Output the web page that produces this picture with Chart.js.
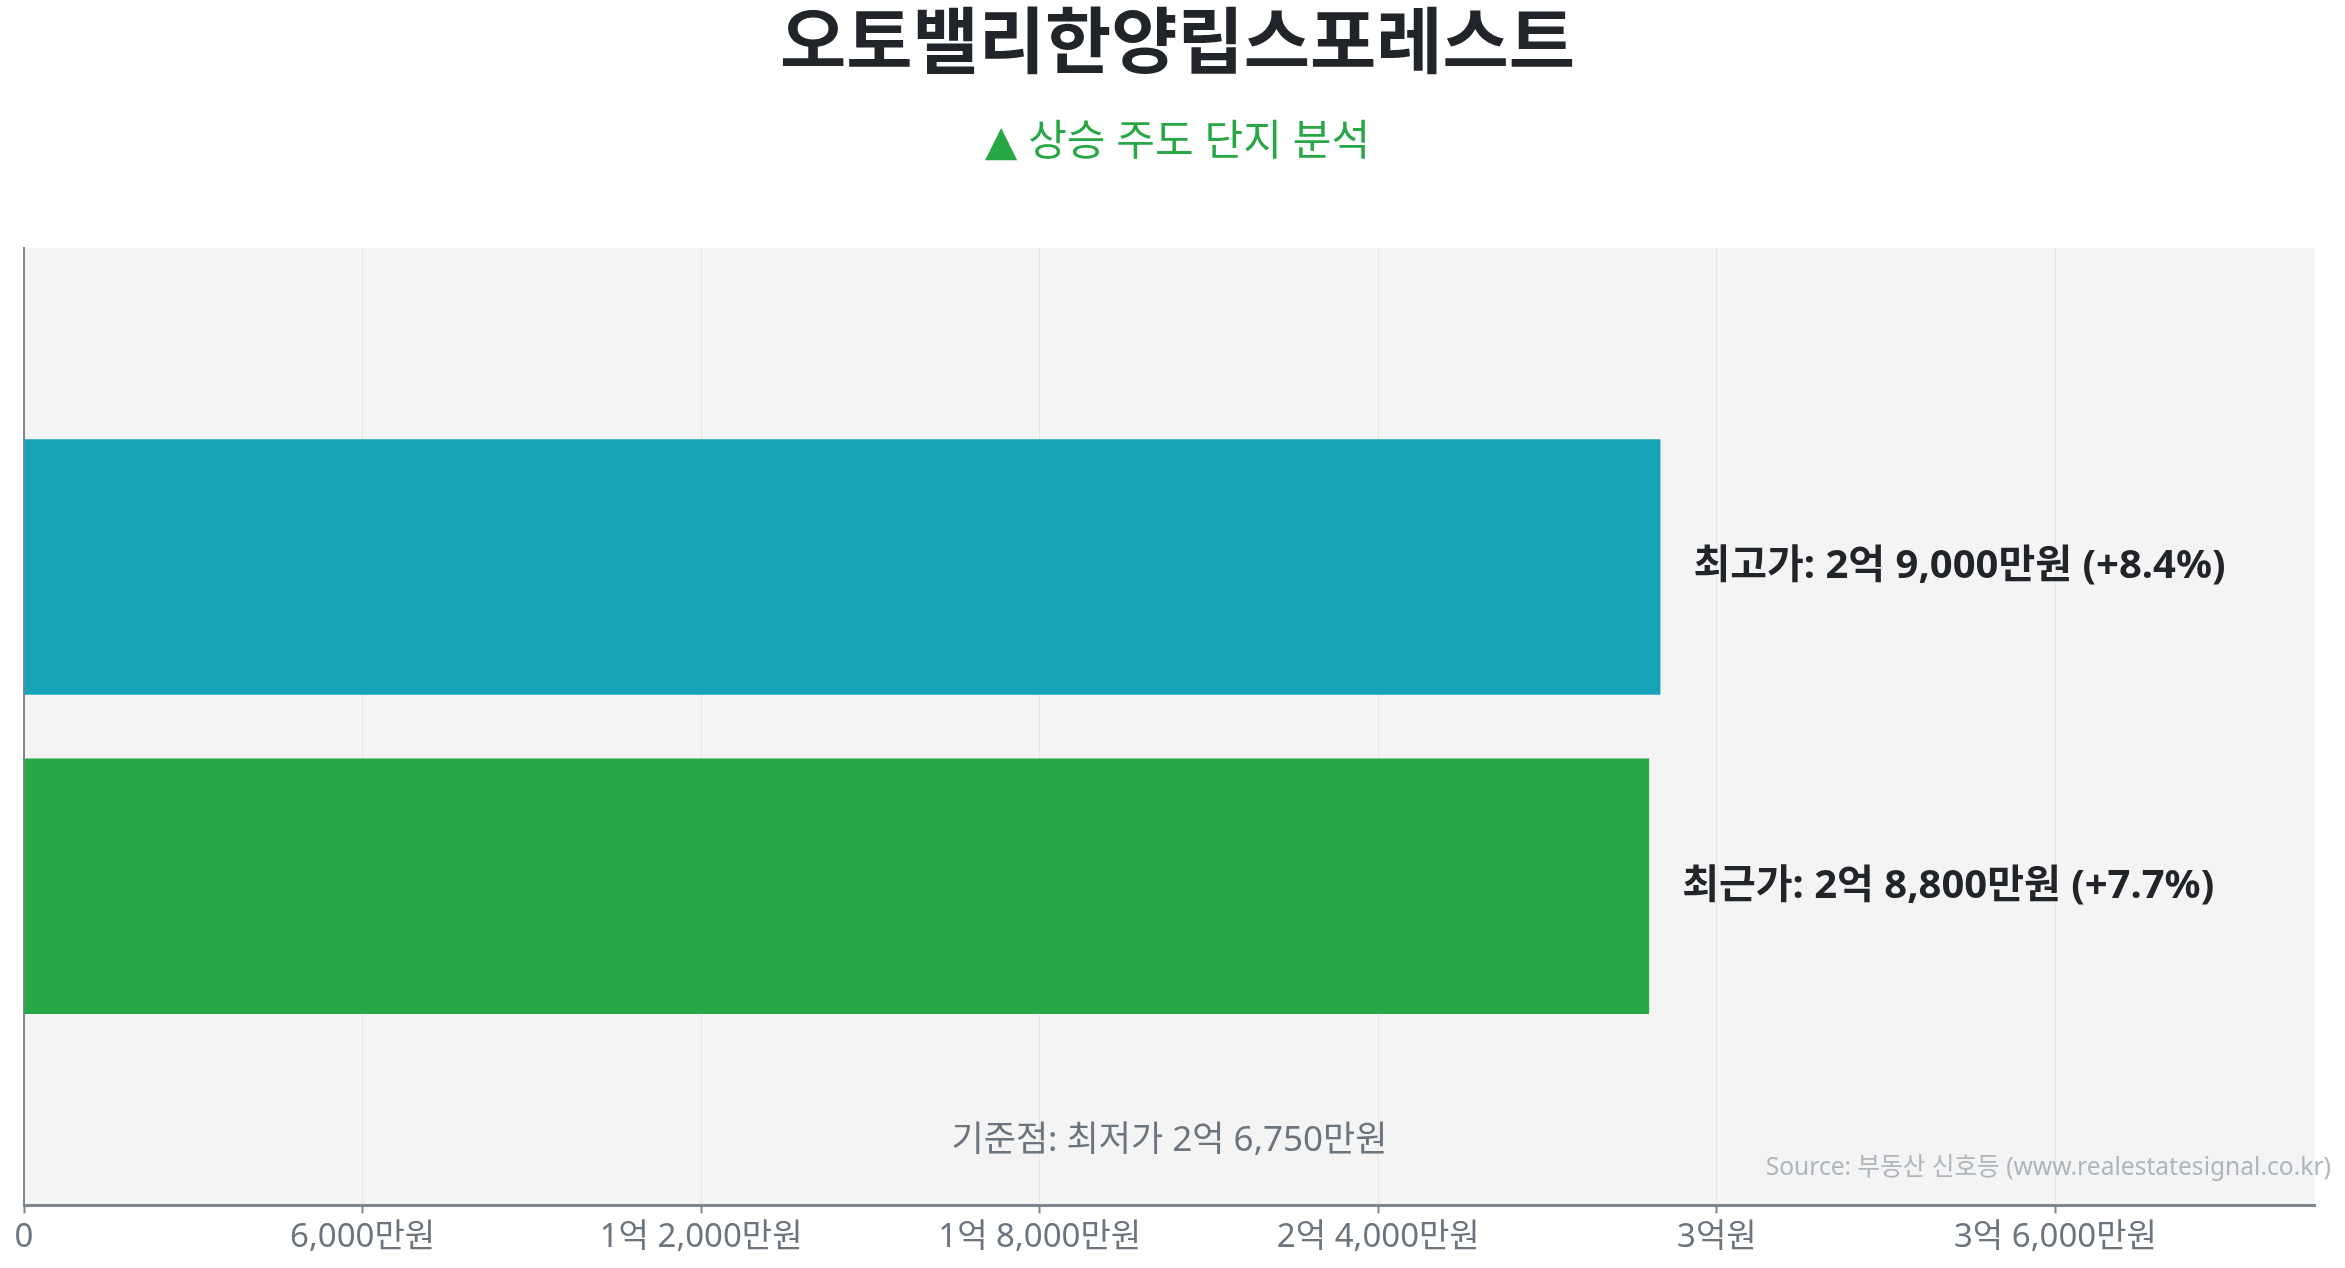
<!DOCTYPE html>
<html lang="ko">
<head>
<meta charset="utf-8">
<script src="https://cdn.jsdelivr.net/npm/chart.js@4.4.1/dist/chart.umd.min.js"></script>
<style>
  html, body { margin: 0; padding: 0; background: #ffffff; }
  #wrap { width: 2345px; height: 1268px; position: relative; }
</style>
</head>
<body>
<div id="wrap"><canvas id="c"></canvas></div>
<script>
// ---- data (values in 만원) ----
const categories = ['', '최고가', '최근가', ''];
const priceValues = [null, 29000, 28800, null];
const barColors = ['rgba(0,0,0,0)', '#17a2b8', '#28a745', 'rgba(0,0,0,0)'];
const basePrice = 26750; // 최저가
const axisMax = 40600;
const tickValues = [0, 6000, 12000, 18000, 24000, 30000, 36000];
const titleText = '오토밸리한양립스포레스트';
const subtitleText = '▲ 상승 주도 단지 분석';
const sourceText = 'Source: 부동산 신호등 (www.realestatesignal.co.kr)';

const FONT = "'Noto Sans', 'Noto Sans CJK KR', sans-serif";
const SUBFONT = "'Noto Sans', 'DejaVu Sans', 'Noto Sans CJK KR', sans-serif";

function fmtMan(v) {
  if (v === 0) return '0';
  const eok = Math.floor(v / 10000);
  const man = v % 10000;
  let s = '';
  if (eok > 0) s += eok + '억';
  if (man > 0) s += (s ? ' ' : '') + man.toLocaleString('en-US') + '만원';
  else s += '원';
  return s;
}

const bgPlugin = {
  id: 'plotBg',
  beforeDraw(chart) {
    const { ctx, chartArea: a } = chart;
    ctx.save();
    ctx.fillStyle = '#f4f4f4';
    ctx.fillRect(a.left, a.top, a.right - a.left, a.bottom - a.top);
    ctx.restore();
  }
};

const labelPlugin = {
  id: 'barLabels',
  afterDatasetsDraw(chart) {
    const { ctx, chartArea: a } = chart;
    const meta = chart.getDatasetMeta(0);
    ctx.save();
    ctx.font = 'bold 40px ' + FONT;
    ctx.fillStyle = '#212529';
    ctx.textAlign = 'left';
    ctx.textBaseline = 'middle';
    meta.data.forEach((bar, i) => {
      const v = priceValues[i];
      if (v === null || v === undefined) return;
      const pct = ((v - basePrice) / basePrice * 100).toFixed(1);
      const txt = categories[i] + ': ' + fmtMan(v) + ' (+' + pct + '%)';
      ctx.fillText(txt, bar.x + 33, bar.y);
    });
    // baseline note
    ctx.font = '35px ' + FONT;
    ctx.fillStyle = '#6c757d';
    ctx.textAlign = 'center';
    ctx.fillText('기준점: 최저가 ' + fmtMan(basePrice), (a.left + a.right) / 2, a.bottom - 64);
    // source
    ctx.font = '24.6px ' + FONT;
    ctx.fillStyle = '#adb5bd';
    ctx.textAlign = 'right';
    ctx.fillText(sourceText, chart.width - 14, a.bottom - 37);
    ctx.restore();
  }
};

new Chart(document.getElementById('c'), {
  type: 'bar',
  data: {
    labels: categories,
    datasets: [{
      data: priceValues,
      backgroundColor: barColors,
      borderWidth: 0,
      barPercentage: 1.0,
      categoryPercentage: 0.8
    }]
  },
  options: {
    indexAxis: 'y',
    responsive: true,
    maintainAspectRatio: false,
    animation: false,
    devicePixelRatio: 1,
    layout: { padding: { top: 0, left: 24, right: 14, bottom: 7 } },
    plugins: {
      legend: { display: false },
      tooltip: { enabled: false },
      title: {
        display: true,
        text: titleText,
        color: '#212529',
        font: { family: FONT, size: 72, weight: 'bold', lineHeight: 1.2 },
        padding: { top: 3, bottom: 0 }
      },
      subtitle: {
        display: true,
        text: subtitleText,
        color: '#28a745',
        font: { family: SUBFONT, size: 42, weight: 'normal', lineHeight: 1.2 },
        padding: { top: 28, bottom: 80 }
      }
    },
    scales: {
      x: {
        type: 'linear',
        min: 0,
        max: axisMax,
        afterBuildTicks: (scale) => {
          scale.ticks = tickValues.map(v => ({ value: v }));
        },
        ticks: {
          padding: 4,
          color: '#6c757d',
          font: { family: FONT, size: 33 },
          callback: (v) => fmtMan(v)
        },
        grid: {
          color: '#e6e6e6',
          lineWidth: 1,
          drawTicks: true,
          tickLength: 8,
          tickColor: '#7f868e',
          tickWidth: 2
        },
        border: { display: true, color: '#7f868e', width: 3 }
      },
      y: {
        type: 'category',
        offset: false,
        ticks: { display: false },
        grid: { display: false, drawTicks: false },
        border: { display: true, color: '#7f868e', width: 2 }
      },
      yRightSpace: {
        type: 'category',
        position: 'right',
        offset: false,
        ticks: { display: false },
        grid: { display: false, drawTicks: false },
        border: { display: false },
        afterFit: (scale) => { scale.width = 16; }
      }
    }
  },
  plugins: [bgPlugin, labelPlugin]
});
</script>
</body>
</html>
